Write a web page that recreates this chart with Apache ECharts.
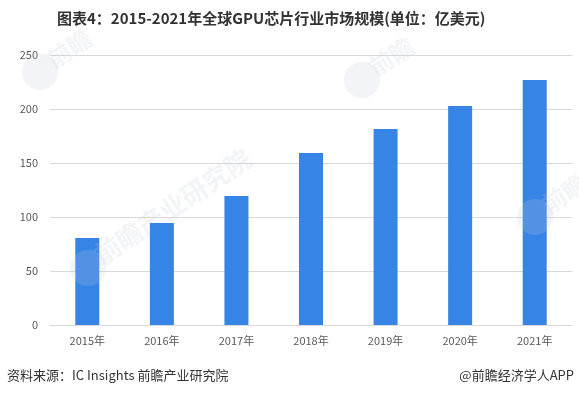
<!DOCTYPE html>
<html>
<head>
<meta charset="utf-8">
<script src="https://cdn.jsdelivr.net/npm/echarts@6/dist/echarts.min.js"></script>
<style>
  body { margin: 0; background: #fff; }
  #chart { width: 579px; height: 397px; }
</style>
</head>
<body>
<div id="chart"></div>
<script>
// 数据
var years = ["2015年", "2016年", "2017年", "2018年", "2019年", "2020年", "2021年"];
var marketSize = [80.5, 94.4, 119.4, 159.3, 181.5, 202.8, 226.9];
var yTicks = [0, 50, 100, 150, 200, 250];

var font = "'Noto Sans CJK SC', 'Noto Sans', sans-serif";
var wmFill = "rgba(195,202,215,0.2)";
var chart = echarts.init(document.getElementById("chart"));

// 水印：logo圆 + 斜文字
function watermark(cx, cy, r, text, size) {
  return [
    { type: "circle", shape: { cx: cx, cy: cy, r: r }, style: { fill: wmFill }, z: 10 },
    {
      type: "text", x: cx + r * 0.9, y: cy, rotation: 0.59, z: 10,
      style: { text: text, fontSize: size, fontWeight: "bold", fill: wmFill, fontFamily: font, textVerticalAlign: "bottom" }
    }
  ];
}

var marks = []
  .concat(watermark(88, 268, 18, "前瞻产业研究院", 26))
  .concat(watermark(362, 80, 18, "前瞻", 24))
  .concat(watermark(535, 217, 18, "前瞻", 24))
  .concat(watermark(40, 72, 18, "前瞻", 24));

chart.setOption({
  animation: false,
  textStyle: { fontFamily: font },
  title: {
    text: "图表4：2015-2021年全球GPU芯片行业市场规模(单位：亿美元)",
    left: 52,
    top: 6,
    textStyle: { fontSize: 15, fontWeight: "bold", color: "#333", fontFamily: font }
  },
  grid: { left: 50, right: 7, top: 55, bottom: 72, containLabel: false },
  graphic: marks.concat([
    // 底部文字
    {
      type: "text", left: 7, top: 369,
      style: { text: "资料来源：IC Insights 前瞻产业研究院", fontSize: 13, fill: "#333", fontFamily: font }
    },
    {
      type: "text", right: 5, top: 369,
      style: { text: "@前瞻经济学人APP", fontSize: 13, fill: "#333", fontFamily: font }
    }
  ]),
  xAxis: {
    type: "category",
    data: years,
    axisTick: { show: false },
    axisLine: { lineStyle: { color: "#d9d9d9" } },
    axisLabel: { color: "#595959", fontSize: 11, margin: 10 }
  },
  yAxis: {
    type: "value",
    min: yTicks[0],
    max: yTicks[yTicks.length - 1],
    interval: 50,
    axisLine: { show: false },
    axisTick: { show: false },
    axisLabel: { color: "#595959", fontSize: 11, margin: 12 },
    splitLine: { lineStyle: { color: "#d9d9d9" } }
  },
  series: [
    {
      type: "bar",
      data: marketSize,
      barWidth: 24,
      itemStyle: { color: "#3684e6" }
    }
  ]
});
</script>
</body>
</html>
